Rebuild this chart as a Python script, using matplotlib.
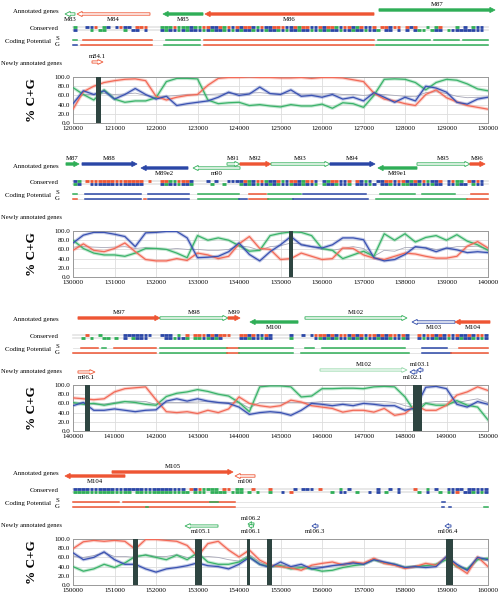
import numpy as np
import matplotlib
matplotlib.use("Agg")
import matplotlib.pyplot as plt
from matplotlib.patches import Polygon
from matplotlib.transforms import blended_transform_factory

plt.rcParams['font.family'] = ['Liberation Serif', 'DejaVu Serif']

# ---- data -------------------------------------------------------------
starts = [120000, 130000, 140000, 150000]

# %C+G every 250 bp, one list per panel
red = [
    [30, 68, 80, 88, 92, 95, 96, 92, 58, 50, 56, 60, 62, 82, 97, 99, 99, 100, 99, 99, 98,
     98, 99, 97, 99, 99, 98, 94, 90, 65, 52, 48, 42, 38, 62, 72, 55, 46, 38, 34, 30],
    [58, 72, 58, 55, 62, 74, 55, 38, 35, 35, 40, 36, 52, 48, 40, 45, 72, 88, 62, 60, 38,
     40, 52, 45, 38, 40, 63, 62, 48, 41, 38, 45, 52, 50, 45, 41, 41, 45, 67, 77, 63],
    [72, 70, 68, 70, 85, 92, 94, 96, 68, 42, 40, 42, 38, 45, 40, 48, 74, 60, 55, 52, 55,
     67, 63, 55, 52, 49, 41, 45, 45, 41, 49, 34, 38, 56, 45, 45, 56, 78, 85, 96, 88],
    [79, 94, 97, 95, 97, 95, 78, 99, 99, 97, 95, 86, 62, 90, 95, 76, 61, 76, 54, 43, 40,
     37, 32, 43, 47, 50, 44, 50, 47, 58, 47, 43, 36, 40, 47, 43, 61, 40, 25, 61, 40],
]
green = [
    [77, 62, 50, 72, 52, 45, 48, 48, 55, 90, 97, 97, 96, 50, 42, 44, 45, 38, 40, 37, 35,
     40, 37, 37, 41, 32, 44, 42, 34, 60, 95, 96, 95, 88, 72, 88, 95, 93, 85, 74, 70],
    [80, 62, 52, 48, 48, 45, 52, 62, 62, 60, 52, 42, 90, 80, 85, 80, 68, 56, 58, 90, 95,
     98, 97, 90, 62, 58, 40, 48, 56, 45, 94, 80, 94, 76, 86, 90, 80, 92, 78, 70, 58],
    [62, 58, 60, 56, 60, 64, 62, 58, 56, 75, 82, 85, 90, 86, 80, 76, 62, 42, 96, 98, 98,
     96, 74, 76, 92, 92, 93, 93, 92, 96, 97, 96, 74, 40, 60, 56, 56, 66, 56, 52, 24],
    [40, 30, 35, 45, 38, 48, 62, 65, 60, 55, 65, 55, 70, 50, 45, 45, 50, 62, 45, 40, 42,
     35, 38, 35, 30, 32, 38, 42, 45, 55, 48, 45, 38, 40, 42, 45, 55, 40, 35, 55, 58],
]
blue = [
    [42, 70, 62, 70, 52, 62, 75, 62, 52, 58, 38, 42, 45, 48, 56, 67, 60, 63, 78, 64, 62,
     72, 58, 60, 56, 62, 52, 56, 48, 66, 56, 45, 56, 48, 80, 76, 67, 45, 41, 52, 56],
    [74, 91, 97, 97, 93, 88, 66, 96, 97, 99, 99, 85, 42, 43, 45, 55, 74, 49, 35, 55, 70,
     88, 70, 66, 63, 70, 85, 85, 81, 42, 35, 38, 49, 66, 63, 55, 63, 59, 53, 55, 53],
    [55, 62, 45, 45, 48, 45, 42, 45, 46, 65, 70, 65, 70, 65, 62, 60, 52, 36, 40, 42, 40,
     34, 45, 60, 58, 55, 58, 55, 60, 58, 55, 55, 45, 50, 95, 97, 92, 58, 52, 64, 58],
    [70, 55, 60, 72, 55, 45, 45, 35, 28, 35, 38, 42, 48, 42, 40, 35, 45, 60, 45, 38, 50,
     40, 45, 35, 38, 42, 45, 48, 45, 55, 50, 45, 38, 40, 38, 40, 62, 45, 32, 60, 55],
]
gray = [
    [45, 62, 62, 64, 62, 63, 65, 60, 55, 58, 60, 62, 62, 62, 63, 64, 64, 65, 66, 64, 63,
     65, 63, 63, 63, 64, 62, 62, 60, 62, 62, 60, 58, 57, 66, 68, 64, 58, 55, 56, 56],
    [65, 66, 65, 64, 65, 66, 62, 64, 62, 60, 62, 60, 60, 58, 58, 60, 68, 65, 58, 66, 68,
     74, 72, 66, 60, 58, 62, 66, 62, 45, 58, 56, 64, 64, 64, 60, 62, 66, 66, 67, 60],
    [60, 62, 58, 58, 62, 64, 65, 64, 58, 62, 62, 62, 63, 64, 62, 62, 62, 50, 62, 62, 62,
     62, 62, 62, 64, 64, 64, 64, 65, 64, 64, 62, 55, 50, 62, 64, 64, 62, 66, 70, 62],
    [62, 60, 64, 70, 62, 62, 60, 66, 62, 62, 66, 60, 60, 62, 60, 55, 52, 66, 50, 42, 44,
     40, 40, 40, 40, 42, 42, 46, 46, 56, 48, 44, 38, 42, 42, 44, 60, 42, 32, 58, 52],
]

dark_bars = [
    [(120550, 120680)],
    [(135200, 135310)],
    [(140290, 140410), (148190, 148410)],
    [(151450, 151560), (152940, 153110), (154190, 154270), (154670, 154800), (158990, 159160)],
]

# genes: name, start, end, strand, colour, hollow, upper row
genes = [
    [("M83", 119807, 120048, -1, 'g', True, False),
     ("M84", 120096, 121855, -1, 'r', True, False),
     ("M85", 122169, 123133, -1, 'g', False, False),
     ("M86", 123181, 127253, -1, 'r', False, False),
     ("M87", 127373, 130169, 1, 'g', False, True)],
    [("M87", 129831, 130145, 1, 'g', False, True),
     ("M88", 130217, 131542, 1, 'b', False, True),
     ("M89e2", 131639, 132771, -1, 'b', False, False),
     ("m90", 132892, 134024, -1, 'g', True, False),
     ("M91", 133711, 134024, 1, 'g', True, True),
     ("M92", 134024, 134771, 1, 'r', False, True),
     ("M93", 134771, 136193, 1, 'g', True, True),
     ("M94", 136193, 137277, 1, 'b', False, True),
     ("M89e1", 137349, 138289, -1, 'g', False, False),
     ("M95", 138289, 139566, 1, 'g', True, True),
     ("M96", 139566, 139928, 1, 'r', False, True)],
    [("M97", 140120, 142096, 1, 'r', False, True),
     ("M98", 142096, 143735, 1, 'g', True, True),
     ("M99", 143735, 144024, 1, 'r', False, True),
     ("M100", 144265, 145422, -1, 'g', False, False),
     ("M102", 145590, 148048, 1, 'g', True, True),
     ("M103", 148169, 149205, -1, 'b', True, False),
     ("M104", 149205, 150048, -1, 'r', False, False)],
    [("M104", 149807, 151253, -1, 'r', False, False),
     ("M105", 150940, 153855, 1, 'r', False, True),
     ("m106", 153904, 154386, -1, 'r', True, False)],
]

new_genes = [
    [("m84.1", 120458, 120723, 1, 'r', True, True)],
    [],
    [("m96.1", 140120, 140530, 1, 'r', True, False),
     ("M102", 145952, 148048, 1, 'lg', True, True),
     ("m102.1", 148120, 148289, -1, 'b', True, False),
     ("m103.1", 148289, 148434, -1, 'b', True, True)],
    [("m105.1", 152699, 153494, -1, 'g', True, False),
     ("m106.2", 154217, 154361, -1, 'g', True, True),
     ("m106.1", 154230, 154350, -1, 'g', True, False),
     ("m106.3", 155759, 155904, -1, 'b', True, False),
     ("m106.4", 158964, 159108, -1, 'b', True, False)],
]

# conserved blocks, one char per 100 bp (r/g/b, '.' = none)
cons_top = [
    "g..bbr.gb.brbb.rrr...gggrgggbggrrbbrgrbrbrrbgrbbrrrbbrgrrbbrbrrgbrrbgrbbr.rrbrr.rbr..g.gr...g.b.gbb.",
    "bg.rrrrrrrrrrrrrr.r..rrggrrrb...b.b..bbbbrgbrrgbbrgbrrbgrrb.bgrrbbr.rbgb.bbrrbrrbgrbrgbbr.brgg.rbrb.",
    "...r..g.....bbbbbbb..bbb.g.r.rrrbrbrrr..rrbrbbrb....b..b.brrrbrbrrbrbrbrrbrbrrbrb..rbrrbrbrbrbbrbrrb",
    "bbbbbbbbbbbbbbbbbbbbbbbbbbb.rbrgggg.rr.gg..r...r.....b.bbb.r....g.b......b..b.b...r..g.b..bbbb.bbbbb",
]
cons_bot = [
    "b...g.gg....g.bb.b...bgbbgbgbbbgbgbbgbgbgbbgbbgbbgbgbbgbbgbgbgbbgbbgbbgbbg.bb.b.b.bgg.gbb.gbbbbbbbb.",
    "gb..bbbbbbbbbbbbb....bgbbgbbg....g..g...gbgbgbbgbgbbgbbgbbg.gbbgbbg.bbbgb.bbgbbggbbgbbgbb.bbgbb.gbb.",
    "..g.g..gg.g.b.gbbb....bbgbbg.ggbgbgb....bbgbbgbb....g.....bgbgbgbbgbgbgbbgbbgbbgb..bgbbgbbgbbgbbgbgb",
    "gggggggggggggg.ggggggggggggg.ggg.gggg.ggg.g.g..g..b.r.........g.bb..g..b.b.g..b....g.b..g.gbr.bbgbgb",
]

# coding potential segments (S and G rows)
cp_s = [
    [(120000, 120100, 'g'), (120250, 121900, 'r'), (122250, 123050, 'g'), (123150, 127250, 'r'),
     (127350, 128600, 'g'), (128700, 129300, 'g'), (129400, 130000, 'g')],
    [(130000, 130100, 'g'), (130300, 131650, 'b'), (131800, 132800, 'b'), (133000, 134000, 'g'),
     (134250, 134650, 'r'), (134700, 135500, 'g'), (135550, 137050, 'b'), (137400, 138250, 'g'),
     (138400, 139200, 'g'), (139600, 140000, 'r')],
    [(140200, 140600, 'r'), (140700, 140800, 'g'), (141000, 142000, 'r'), (142100, 143700, 'g'),
     (143700, 144000, 'r'), (144000, 145300, 'g'), (145600, 145800, 'g'), (146000, 148000, 'g'),
     (148400, 149000, 'b'), (149300, 150000, 'r')],
    [(150000, 151100, 'r'), (151200, 153900, 'r'), (153300, 153500, 'g'), (158900, 158960, 'b')],
]
cp_g = [
    [(120000, 120100, 'b'), (120200, 121900, 'r'), (122200, 123050, 'g'), (123150, 127250, 'r'),
     (127300, 130000, 'g')],
    [(130000, 130100, 'r'), (130300, 131650, 'b'), (131700, 131750, 'r'), (131800, 132800, 'b'),
     (133000, 134000, 'g'), (134000, 134200, 'b'), (134250, 134700, 'r'), (134700, 135300, 'g'),
     (135300, 137100, 'b'), (137300, 139500, 'g'), (139500, 140000, 'r')],
    [(140000, 142000, 'r'), (142100, 143700, 'g'), (143700, 144000, 'r'), (144000, 145300, 'g'),
     (145500, 148100, 'g'), (148400, 149100, 'b'), (149100, 150000, 'r')],
    [(150000, 153900, 'r'), (151750, 151800, 'g'), (158900, 158950, 'b'), (159050, 159100, 'b'),
     (159900, 160000, 'g')],
]

# ---- style --------------------------------------------------------------
cmap = {'r': '#ee5533', 'g': '#2fae57', 'b': '#2a46a6', 'lg': '#8ed6a4'}
line_c = {'r': '#f26a58', 'g': '#3bb36a', 'b': '#3a52b2', 'k': '#a8a8b8'}

W, H = 500, 599
PPK = 41.5          # pixels per 1000 bp
PLOT_L = 73
STEP = 154

fig = plt.figure(figsize=(W / 100, H / 100), dpi=100)


def arrow(ax, s, e, y, strand, col, hollow, hh=2.6, bh=1.2):
    head = min(125, (e - s) * 0.6)
    if strand > 0:
        pts = [(s, y - bh), (e - head, y - bh), (e - head, y - hh), (e, y),
               (e - head, y + hh), (e - head, y + bh), (s, y + bh)]
    else:
        pts = [(e, y - bh), (s + head, y - bh), (s + head, y - hh), (s, y),
               (s + head, y + hh), (s + head, y + bh), (e, y + bh)]
    c = cmap[col]
    ax.add_patch(Polygon(pts, closed=True, facecolor='white' if hollow else c,
                         edgecolor=c, lw=0.6, zorder=3))


for i, st in enumerate(starts):
    T = STEP * i
    # track axes: full width, local pixel y
    tax = fig.add_axes([0, 1 - (T + 76) / H, 1, 76 / H])
    x0 = st - PLOT_L * 1000 / PPK
    x1 = st + (W - PLOT_L) * 1000 / PPK
    tax.set_xlim(x0, x1)
    tax.set_ylim(76, 0)
    tax.axis('off')
    tr = blended_transform_factory(tax.transAxes, tax.transData)
    fs = 4.9
    tax.text(59 / W, 12, "Annotated genes", transform=tr, ha='right', va='center', fontsize=fs)
    tax.text(59 / W, 28, "Conserved", transform=tr, ha='right', va='center', fontsize=fs)
    tax.text(51 / W, 42, "Coding Potential", transform=tr, ha='right', va='center', fontsize=fs)
    tax.text(57 / W, 39, "S", transform=tr, ha='center', va='center', fontsize=fs)
    tax.text(57 / W, 45, "G", transform=tr, ha='center', va='center', fontsize=fs)
    tax.text(1 / W, 63, "Newly annotated genes", transform=tr, ha='left', va='center', fontsize=4.7)

    for name, s, e, strand, col, hollow, up in genes[i]:
        y = 10 if up else 14
        arrow(tax, s, e, y, strand, col, hollow)
        tax.text((s + e) / 2, y - 5.5 if up else y + 5.5, name, ha='center', va='center', fontsize=4.9)

    for name, s, e, strand, col, hollow, up in new_genes[i]:
        y = 62 if up else 64
        arrow(tax, s, e, y, strand, col, hollow, hh=2.4, bh=1.1)
        tax.text((s + e) / 2, y - 5.5 if up else y + 5.5, name, ha='center', va='center', fontsize=4.9)

    # conserved rows
    for row, yy in ((cons_top[i], 26.8), (cons_bot[i], 29.6)):
        tax.plot([st, st + 10000], [yy, yy], color='#e4e4e4', lw=1.2, zorder=1)
        for k, ch in enumerate(row):
            if ch != '.':
                tax.plot([st + k * 100, st + k * 100 + 90], [yy, yy], color=cmap[ch],
                         lw=2.0, solid_capstyle='butt', zorder=2)

    # coding potential rows
    for segs, yy in ((cp_s[i], 39.5), (cp_g[i], 44.5)):
        tax.plot([st, st + 10000], [yy, yy], color='#e0e0e0', lw=0.6, zorder=1)
        for s, e, col in segs:
            tax.plot([s, e], [yy, yy], color=cmap[col], lw=1.1, zorder=2)

    # %C+G plot
    ax = fig.add_axes([PLOT_L / W, 1 - (T + 123) / H, 415 / W, 46 / H])
    xs = np.arange(st, st + 10001, 250)
    for ser, key in ((gray[i], 'k'), (green[i], 'g'), (red[i], 'r'), (blue[i], 'b')):
        if key == 'k':
            ax.plot(xs, ser, color=line_c[key], lw=0.6, zorder=2)
        else:
            ax.plot(xs, ser, color=line_c[key], lw=2.4, alpha=0.3, zorder=2)
            ax.plot(xs, ser, color=line_c[key], lw=0.9, zorder=3)
    for s, e in dark_bars[i]:
        ax.axvspan(s, e, color='#2e4541', zorder=5, lw=0)
    ax.set_xlim(st, st + 10000)
    ax.set_ylim(0, 100)
    ax.set_xticks(np.arange(st, st + 10001, 1000))
    ax.set_xticklabels([str(v) for v in range(st, st + 10001, 1000)])
    ax.set_yticks(np.arange(0, 101, 20))
    ax.set_yticklabels(["%.1f" % v for v in range(0, 101, 20)])
    ax.tick_params(labelsize=5, length=0, pad=2)
    ax.grid(True, color='#dddddd', lw=0.6)
    ax.set_axisbelow(True)
    for sp in ax.spines.values():
        sp.set_color('#999999')
        sp.set_linewidth(0.7)
    fig.text(32 / W, 1 - (T + 100) / H, "% C+G", rotation=90, ha='center', va='center',
             fontsize=9.5, fontweight='bold')

fig.savefig("out.png", dpi=100)
